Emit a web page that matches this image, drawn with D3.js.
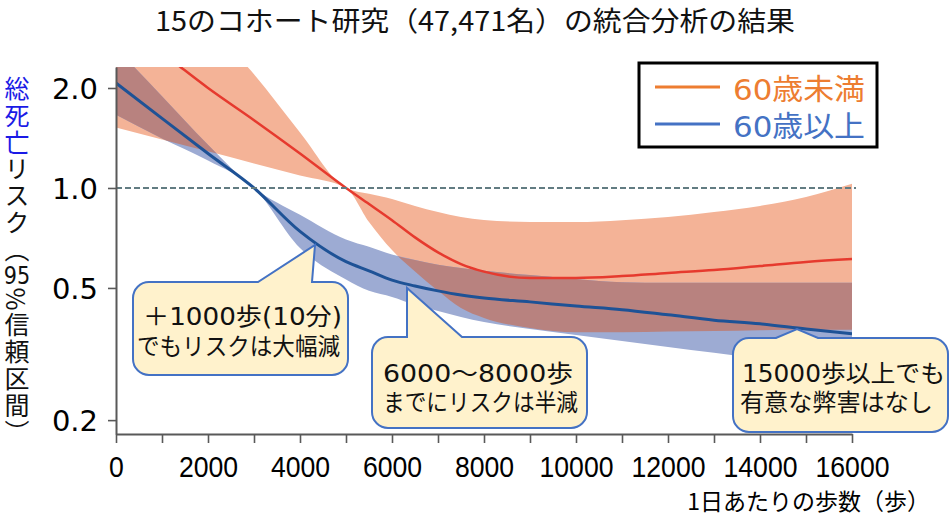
<!DOCTYPE html>
<html><head><meta charset="utf-8">
<script src="https://cdn.jsdelivr.net/npm/d3@7"></script>
<style>body{margin:0;background:#fff;position:relative}svg{display:block}</style>
</head><body>
<svg id="c" width="949" height="516"></svg>
<script>
// ---- data ----
const steps = [0,1000,2000,3000,4000,5000,5500,6000,6500,7000,7500,8000,9000,10000,11000,12000,13000,14000,15000,16000];
const under60 = [3.2,2.55,2.0,1.6,1.27,1.0,0.895,0.80,0.71,0.64,0.59,0.56,0.536,0.536,0.543,0.555,0.566,0.582,0.599,0.611];
const under60Upper = [6.0,4.3,3.1,2.2,1.47,1.0,0.96,0.927,0.883,0.847,0.818,0.801,0.79,0.79,0.80,0.818,0.847,0.883,0.94,1.03];
const under60Lower = [1.52,1.40,1.29,1.185,1.09,1.0,0.79,0.65,0.56,0.49,0.435,0.406,0.379,0.368,0.368,0.37,0.371,0.373,0.374,0.374];
const over60 = [2.07,1.62,1.27,1.0,0.74,0.60,0.563,0.528,0.507,0.49,0.476,0.466,0.454,0.441,0.43,0.415,0.40,0.39,0.376,0.364];
const over60Upper = [2.64,1.89,1.35,1.0,0.83,0.70,0.665,0.63,0.607,0.587,0.574,0.563,0.547,0.532,0.52,0.518,0.518,0.518,0.518,0.518];
const over60Lower = [1.66,1.41,1.21,1.0,0.66,0.53,0.49,0.47,0.445,0.426,0.409,0.395,0.376,0.361,0.346,0.332,0.319,0.306,0.293,0.281];
const yTicks = [0.2,0.5,1.0,2.0];
const xMinorTicks = [0,1000,2000,3000,4000,5000,6000,7000,8000,9000,10000,11000,12000,13000,14000,15000,16000];
const xTickLabels = [0,2000,4000,6000,8000,10000,12000,14000,16000];
const seriesNames = ["60歳未満","60歳以上"];
const title = "15のコホート研究（47,471名）の統合分析の結果";
const xTitle = "1日あたりの歩数（歩）";
const yTitleParts = [["総死亡","blue"],["リスク（",""],["95","tcy"],["%信頼区間）",""]];
const callouts = [
  ["＋1000歩(10分)","でもリスクは大幅減"],
  ["6000～8000歩","までにリスクは半減"],
  ["15000歩以上でも","有意な弊害はなし"]
];

// ---- chart ----
const svg = d3.select("#c");
const CJK = "'Noto Sans CJK JP','Noto Sans',sans-serif";
const LAT = "'DejaVu Sans','Noto Sans CJK JP',sans-serif";
const x = d3.scaleLinear().domain([0,16000]).range([116,852]);
const y = d3.scaleLog().domain([0.18165,2.3134]).range([434,67]);

const defs = svg.append("defs");
defs.append("clipPath").attr("id","plot").append("rect")
  .attr("x",116).attr("y",67).attr("width",736).attr("height",367);

const band = (lo,hi) => d3.area().curve(d3.curveMonotoneX)
  .x((d,i)=>x(steps[i])).y0((d,i)=>y(lo[i])).y1((d,i)=>y(hi[i]))(steps);
const line = vals => d3.line().curve(d3.curveMonotoneX)
  .x((d,i)=>x(steps[i])).y((d,i)=>y(vals[i]))(steps);

const orangeBand = band(under60Lower,under60Upper);
const blueBand = band(over60Lower,over60Upper);
defs.append("clipPath").attr("id","oband").append("path").attr("d",orangeBand);

const g = svg.append("g").attr("clip-path","url(#plot)");
g.append("path").attr("d",orangeBand).attr("fill","#F4B397");
g.append("path").attr("d",blueBand).attr("fill","#9DABD3");
g.append("g").attr("clip-path","url(#oband)").append("path").attr("d",blueBand).attr("fill","#B8827F");

// reference line
svg.append("line").attr("x1",116).attr("x2",856).attr("y1",y(1)).attr("y2",y(1))
  .attr("stroke","#627C82").attr("stroke-width",2).attr("stroke-dasharray","6,3");

g.append("path").attr("d",line(under60)).attr("fill","none").attr("stroke","#E63A2E").attr("stroke-width",2.5);
g.append("path").attr("d",line(over60)).attr("fill","none").attr("stroke","#1E5296").attr("stroke-width",3);

// axes
const yAx = svg.append("g").attr("transform","translate(116,0)")
  .call(d3.axisLeft(y).tickValues(yTicks).tickFormat(d3.format(".1f")).tickSize(8).tickSizeOuter(0));
yAx.selectAll("text").attr("x",-18).attr("dy","0.36em")
  .style("font-family",LAT).style("font-size","29px").attr("fill","#000");
const xAx = svg.append("g").attr("transform","translate(0,434)")
  .call(d3.axisBottom(x).tickValues(xMinorTicks)
    .tickFormat(d => xTickLabels.includes(d) ? String(d) : "").tickSize(9).tickSizeOuter(0));
xAx.selectAll("text").attr("y",43).attr("dy",0)
  .style("font-family","'Liberation Sans',sans-serif")
  .style("font-size","30px").attr("fill","#000")
  .each(function(){
    const s = d3.select(this).text();
    if (s) d3.select(this).attr("textLength", s.length*14.8).attr("lengthAdjust","spacingAndGlyphs");
  });
[yAx,xAx].forEach(a=>{
  a.select(".domain").attr("stroke","#595959").attr("stroke-width",2);
  a.selectAll(".tick line").attr("stroke","#595959").attr("stroke-width",1.6);
});

// title
svg.append("text").attr("x",475).attr("y",31).attr("text-anchor","middle")
  .attr("textLength",640).attr("lengthAdjust","spacingAndGlyphs")
  .style("font-family",CJK).style("font-size","27px").attr("fill","#111").text(title);

// x title
svg.append("text").attr("x",930).attr("y",510).attr("text-anchor","end")
  .style("font-family",CJK).style("font-size","23px").attr("fill","#000").text(xTitle);

// y title (vertical, real text)
const yt = d3.select("body").append("div")
  .style("position","absolute").style("left","3px").style("top","76px")
  .style("writing-mode","vertical-rl").style("font-family",CJK)
  .style("font-size","25px").style("line-height","28px").style("letter-spacing","1.8px")
  .style("color","#111").style("white-space","nowrap");
yTitleParts.forEach(([t,k])=>{
  const s = yt.append("span").text(t);
  if (k==="blue") s.style("color","#1a1ae6");
  if (k==="tcy") s.style("text-combine-upright","all").style("font-family",LAT).style("font-size","24px");
});

// callouts
function bubble(x0,y0,x1,y1,r,p1,p2,tx,ty){
  const p = d3.path();
  p.moveTo(x0+r,y0); p.lineTo(p1,y0); p.lineTo(tx,ty); p.lineTo(p2,y0);
  p.arcTo(x1,y0,x1,y0+r,r); p.arcTo(x1,y1,x1-r,y1,r);
  p.arcTo(x0,y1,x0,y1-r,r); p.arcTo(x0,y0,x0+r,y0,r); p.closePath();
  return p.toString();
}
const boxes = [
  {b:[133,282,348,375,16,258,312,315,245], t:[[143,325,199],[137,355,203]]},
  {b:[372,337,587,428,16,407,462,407,288], t:[[383,382,190],[383,411,195]]},
  {b:[733,338,948,432,16,776,818,797,329], t:[[742,382,203],[740,411,193]]}
];
boxes.forEach((bx,i)=>{
  svg.append("path").attr("d",bubble(...bx.b)).attr("fill","#FFF2CC")
    .attr("stroke","#4472C4").attr("stroke-width",2);
  bx.t.forEach((tt,j)=>{
    svg.append("text").attr("x",tt[0]).attr("y",tt[1])
      .attr("textLength",tt[2]).attr("lengthAdjust","spacingAndGlyphs")
      .style("font-family",LAT).style("font-size","24px").attr("fill","#111")
      .text(callouts[i][j]);
  });
});

// legend
svg.append("rect").attr("x",639).attr("y",63).attr("width",238).attr("height",84)
  .attr("fill","#fff").attr("stroke","#000").attr("stroke-width",3);
const legColors = ["#ED7D31","#4472C4"];
seriesNames.forEach((n,i)=>{
  const yy = 87 + i*37;
  svg.append("line").attr("x1",655).attr("x2",720).attr("y1",yy).attr("y2",yy)
    .attr("stroke",legColors[i]).attr("stroke-width",3);
  svg.append("text").attr("x",733).attr("y",yy+13).attr("textLength",132)
    .attr("lengthAdjust","spacingAndGlyphs")
    .style("font-family",LAT).style("font-size","29px").attr("fill",legColors[i]).text(n);
});
</script>
</body></html>
